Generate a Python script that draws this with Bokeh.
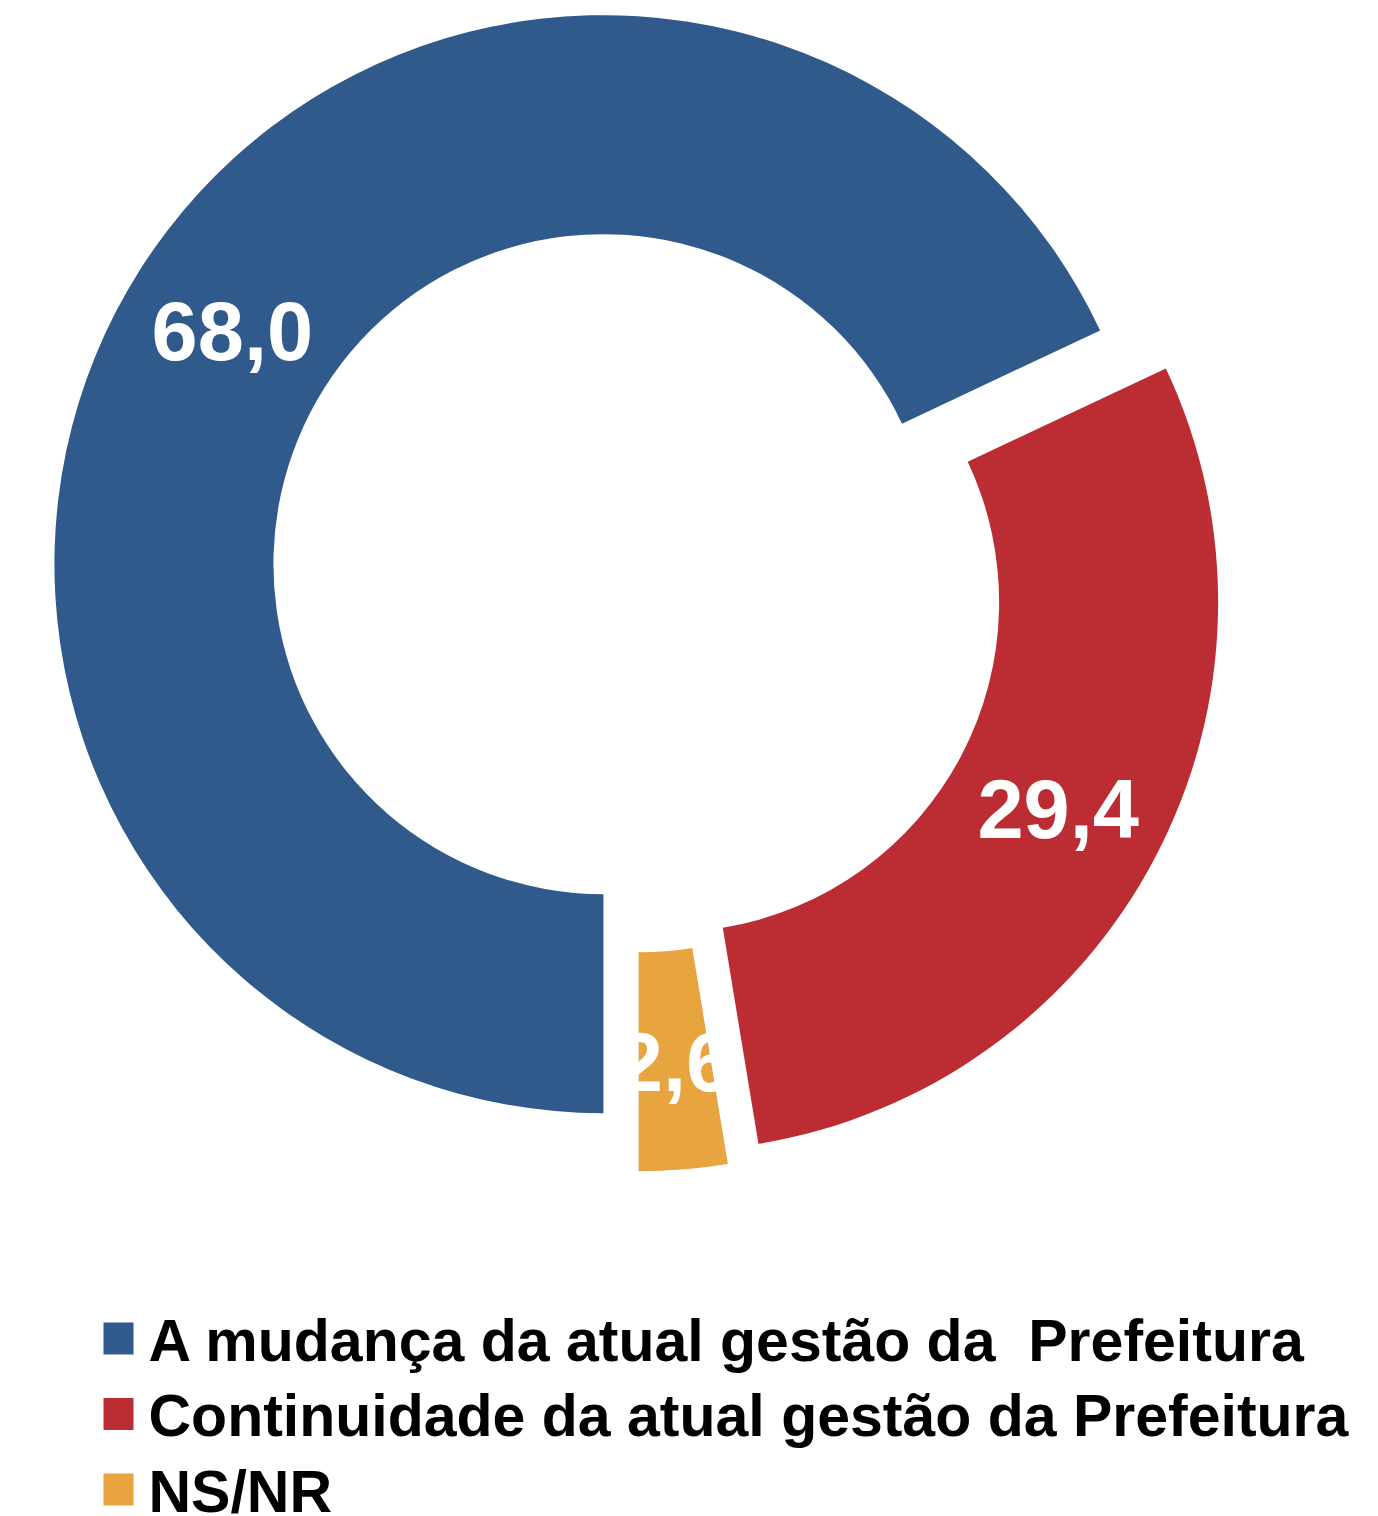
import math
from bokeh.plotting import figure
from bokeh.models import Range1d, ColumnDataSource
from bokeh.core.properties import value
from bokeh.embed import file_html
from bokeh.resources import INLINE

# ---- data ----
categories = ["A mudança da atual gestão da  Prefeitura",
              "Continuidade da atual gestão da Prefeitura",
              "NS/NR"]
values = [68.0, 29.4, 2.6]
colors = ["#2F5A8B", "#BB2D32", "#E8A43F"]

# ---- layout (page px -> data units, 1:1) ----
W, H = 1376, 1516
def dx(sx): return sx
def dy(sy): return H - sy

cx, cy = dx(635), dy(584)
r_out, r_in = 549, 330
explode = 38
label_r = (r_out + r_in) / 2

total = sum(values)
starts, ends, xs, ys, lx, ly, labels = [], [], [], [], [], [], []
cum = 0.0
for v in values:
    th0 = 180 + cum / total * 360          # clockwise from 12 o'clock
    th1 = 180 + (cum + v) / total * 360
    thm = math.radians((th0 + th1) / 2)
    ox = cx + explode * math.sin(thm)
    oy = cy + explode * math.cos(thm)
    xs.append(ox); ys.append(oy)
    starts.append(math.radians(90 - th0))
    ends.append(math.radians(90 - th1))
    lx.append(ox + label_r * math.sin(thm))
    ly.append(oy + label_r * math.cos(thm) - 2)
    labels.append(f"{v:.1f}".replace(".", ","))
    cum += v

src = ColumnDataSource(dict(x=xs, y=ys, start=starts, end=ends, color=colors,
                            lx=lx, ly=ly, label=labels))

p = figure(width=W, height=H, output_backend="svg", toolbar_location=None,
           x_range=Range1d(0, W), y_range=Range1d(0, H), min_border=0)
p.axis.visible = False
p.grid.visible = False
p.outline_line_color = None
p.background_fill_color = "white"

p.annular_wedge(x="x", y="y", inner_radius=r_in, outer_radius=r_out,
                start_angle="start", end_angle="end", direction="clock",
                fill_color="color", line_color=None, source=src)

p.text(x="lx", y="ly", text="label", source=src, text_color="white",
       text_font=value("Liberation Sans"), text_font_style="bold",
       text_font_size="83px", text_align="center", text_baseline="middle")

# ---- legend ----
n = len(categories)
leg = ColumnDataSource(dict(
    sx=[dx(118)] * n,
    sy=[dy(1338 + 75.5 * i) for i in range(n)],
    tx=[dx(148)] * n,
    ty=[dy(1340 + 75.5 * i) for i in range(n)],
    color=colors,
    text=[c.replace("  ", " \u00a0") for c in categories]))
p.rect(x="sx", y="sy", width=30, height=32, fill_color="color",
       line_color=None, source=leg)
p.text(x="tx", y="ty", text="text", source=leg, text_color="black",
       text_font=value("Liberation Sans"), text_font_style="bold",
       text_font_size="59px", text_align="left", text_baseline="middle")

open("out.html", "w").write(file_html(p, INLINE))
